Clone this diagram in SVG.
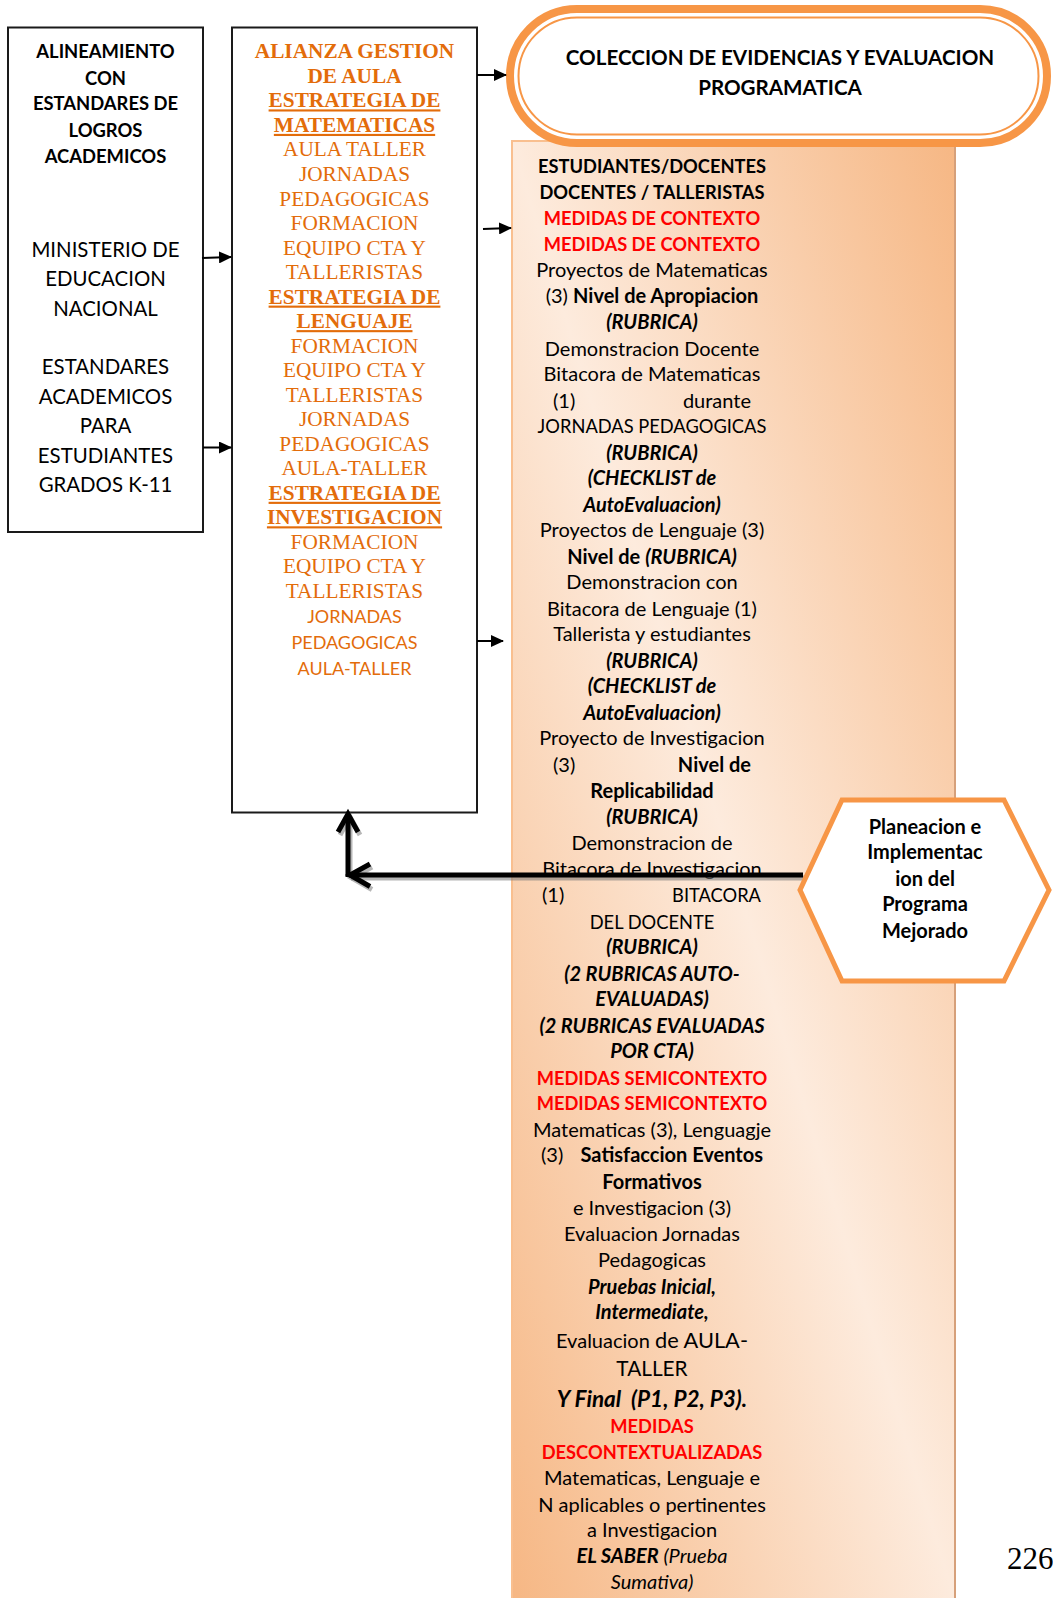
<svg xmlns="http://www.w3.org/2000/svg" width="1053" height="1598" viewBox="0 0 1053 1598">
<defs>
<style>
.s{font-family:Lato,"Open Sans",sans-serif;text-anchor:middle;fill:#000}
.t{font-family:"Liberation Serif","Times New Roman",serif;text-anchor:middle;fill:#E36C0A;font-size:21.3px}
.tb{font-weight:bold}
.u{text-decoration:underline}
.lb{font-size:18.4px;font-weight:bold}
.lr{font-size:20.4px}
.pill{font-size:20.6px;font-weight:bold}
.p{font-size:20px}
.cap{font-size:18.3px}
.ms{font-size:18px;fill:#E36C0A}
.b{font-weight:bold}
.i{font-style:italic}
.bi{font-weight:bold;font-style:italic}
.red{fill:#FF0000;font-weight:bold}
.big{font-size:22.5px}
.bigc{font-size:20.8px}
.box{fill:#fff;stroke:#1a1a1a;stroke-width:2}
.cn{stroke:#000;stroke-width:2;fill:none}
.thick{stroke:#000;stroke-width:5;fill:none;stroke-linecap:butt}
.shadow{stroke:#7a7a7a;stroke-width:5;fill:none;opacity:0.55}
</style>
<linearGradient id="pg" x1="0" y1="1" x2="1" y2="0">
<stop offset="0" stop-color="#F6B784"/>
<stop offset="0.5" stop-color="#FDEBDD"/>
<stop offset="1" stop-color="#F6B784"/>
</linearGradient>
<marker id="ah" markerWidth="13" markerHeight="12" refX="12" refY="6" orient="auto" markerUnits="userSpaceOnUse">
<path d="M0,0 L13,6 L0,12 z" fill="#000"/>
</marker>
</defs>
<rect width="1053" height="1598" fill="#fff"/>

<g id="panel">
<rect x="512" y="141" width="443" height="1460" fill="url(#pg)" stroke="#F9BF8F" stroke-width="2"/>
<line x1="955" y1="141" x2="955" y2="1598" stroke="#D6A07A" stroke-width="2"/>
<text class="s cap b" x="652" y="173.2">ESTUDIANTES/DOCENTES</text>
<text class="s cap b" x="652" y="198.6">DOCENTES / TALLERISTAS</text>
<text class="s cap red" x="652" y="225.2">MEDIDAS DE CONTEXTO</text>
<text class="s cap red" x="652" y="250.6">MEDIDAS DE CONTEXTO</text>
<text class="s p" x="652" y="277.1">Proyectos de Matematicas</text>
<text class="s p" x="652" y="302.6">(3) <tspan class="b">Nivel de Apropiacion</tspan></text>
<text class="s p bi" x="652" y="329.1">(RUBRICA)</text>
<text class="s p" x="652" y="355.6">Demonstracion Docente</text>
<text class="s p" x="652" y="381.1">Bitacora de Matematicas</text>
<text class="s p" x="553" y="407.6" style="text-anchor:start">(1)</text>
<text class="s p" x="751" y="407.6" style="text-anchor:end">durante</text>
<text class="s cap" x="652" y="433.1">JORNADAS PEDAGOGICAS</text>
<text class="s p bi" x="652" y="459.6">(RUBRICA)</text>
<text class="s p bi" x="652" y="485.1">(CHECKLIST de</text>
<text class="s p bi" x="652" y="511.6">AutoEvaluacion)</text>
<text class="s p" x="652" y="537.1">Proyectos de Lenguaje (3)</text>
<text class="s p b" x="652" y="563.6">Nivel de <tspan class="i">(RUBRICA)</tspan></text>
<text class="s p" x="652" y="589.1">Demonstracion con</text>
<text class="s p" x="652" y="615.6">Bitacora de Lenguaje (1)</text>
<text class="s p" x="652" y="641.1">Tallerista y estudiantes</text>
<text class="s p bi" x="652" y="667.6">(RUBRICA)</text>
<text class="s p bi" x="652" y="693.1">(CHECKLIST de</text>
<text class="s p bi" x="652" y="719.6">AutoEvaluacion)</text>
<text class="s p" x="652" y="745">Proyecto de Investigacion</text>
<text class="s p" x="553" y="771.6" style="text-anchor:start">(3)</text>
<text class="s p b" x="751" y="771.6" style="text-anchor:end">Nivel de</text>
<text class="s p b" x="652" y="798.1">Replicabilidad</text>
<text class="s p bi" x="652" y="823.5">(RUBRICA)</text>
<text class="s p" x="652" y="850">Demonstracion de</text>
<text class="s p" x="652" y="875.5">Bitacora de Investigacion</text>
<text class="s p" x="542" y="902" style="text-anchor:start">(1)</text>
<text class="s cap" x="761" y="902" style="text-anchor:end">BITACORA</text>
<text class="s cap" x="652" y="928.5">DEL DOCENTE</text>
<text class="s p bi" x="652" y="954">(RUBRICA)</text>
<text class="s p bi" x="652" y="980.5">(2 RUBRICAS AUTO-</text>
<text class="s p bi" x="652" y="1006">EVALUADAS)</text>
<text class="s p bi" x="652" y="1032.5">(2 RUBRICAS EVALUADAS</text>
<text class="s p bi" x="652" y="1058">POR CTA)</text>
<text class="s cap red" x="652" y="1084.5">MEDIDAS SEMICONTEXTO</text>
<text class="s cap red" x="652" y="1110">MEDIDAS SEMICONTEXTO</text>
<text class="s p" x="652" y="1136.5">Matematicas (3), Lenguagje</text>
<text class="s p" x="541" y="1162" style="text-anchor:start">(3)</text>
<text class="s p b" x="763" y="1162" style="text-anchor:end">Satisfaccion Eventos</text>
<text class="s p b" x="652" y="1188.5">Formativos</text>
<text class="s p" x="652" y="1215">e Investigacion (3)</text>
<text class="s p" x="652" y="1240.5">Evaluacion Jornadas</text>
<text class="s p" x="652" y="1267">Pedagogicas</text>
<text class="s p bi" x="652" y="1293.5">Pruebas Inicial,</text>
<text class="s p bi" x="652" y="1319">Intermediate,</text>
<text class="s p" x="652" y="1348">Evaluacion <tspan style="font-size:21.8px">de AULA-</tspan></text>
<text class="s bigc" x="652" y="1376">TALLER</text>
<text class="s big bi" x="652" y="1406.6" xml:space="preserve">Y Final  (P1, P2, P3).</text>
<text class="s cap red" x="652" y="1433.1">MEDIDAS</text>
<text class="s cap red" x="652" y="1458.6">DESCONTEXTUALIZADAS</text>
<text class="s p" x="652" y="1485.1">Matematicas, Lenguaje e</text>
<text class="s p" x="652" y="1511.6">N aplicables o pertinentes</text>
<text class="s p" x="652" y="1537.1">a Investigacion</text>
<text class="s p i" x="652" y="1562.6"><tspan class="b">EL SABER</tspan> (Prueba</text>
<text class="s p i" x="652" y="1589.1">Sumativa)</text>
</g>

<g id="alineamiento">
<rect class="box" x="8" y="27.5" width="195" height="504.5"/>
<text class="s lb" x="105.5" y="58">ALINEAMIENTO</text>
<text class="s lb" x="105.5" y="84.5">CON</text>
<text class="s lb" x="105.5" y="110">ESTANDARES DE</text>
<text class="s lb" x="105.5" y="136.5">LOGROS</text>
<text class="s lb" x="105.5" y="163">ACADEMICOS</text>
<text class="s lr" x="105.5" y="256.5">MINISTERIO DE</text>
<text class="s lr" x="105.5" y="286">EDUCACION</text>
<text class="s lr" x="105.5" y="315.5">NACIONAL</text>
<text class="s lr" x="105.5" y="374">ESTANDARES</text>
<text class="s lr" x="105.5" y="403.5">ACADEMICOS</text>
<text class="s lr" x="105.5" y="433">PARA</text>
<text class="s lr" x="105.5" y="462.5">ESTUDIANTES</text>
<text class="s lr" x="105.5" y="492">GRADOS K-11</text>
</g>

<g id="alianza">
<rect class="box" x="232" y="27.5" width="245" height="785"/>
<text class="t tb" x="354.5" y="58.3">ALIANZA GESTION</text>
<text class="t tb" x="354.5" y="82.8">DE AULA</text>
<text class="t tb u" x="354.5" y="107.4">ESTRATEGIA DE</text>
<text class="t tb u" x="354.5" y="131.9">MATEMATICAS</text>
<text class="t" x="354.5" y="156.4">AULA TALLER</text>
<text class="t" x="354.5" y="180.9">JORNADAS</text>
<text class="t" x="354.5" y="205.5">PEDAGOGICAS</text>
<text class="t" x="354.5" y="230">FORMACION</text>
<text class="t" x="354.5" y="254.5">EQUIPO CTA Y</text>
<text class="t" x="354.5" y="279">TALLERISTAS</text>
<text class="t tb u" x="354.5" y="303.6">ESTRATEGIA DE</text>
<text class="t tb u" x="354.5" y="328.1">LENGUAJE</text>
<text class="t" x="354.5" y="352.6">FORMACION</text>
<text class="t" x="354.5" y="377.1">EQUIPO CTA Y</text>
<text class="t" x="354.5" y="401.7">TALLERISTAS</text>
<text class="t" x="354.5" y="426.2">JORNADAS</text>
<text class="t" x="354.5" y="450.7">PEDAGOGICAS</text>
<text class="t" x="354.5" y="475.2">AULA-TALLER</text>
<text class="t tb u" x="354.5" y="499.8">ESTRATEGIA DE</text>
<text class="t tb u" x="354.5" y="524.3">INVESTIGACION</text>
<text class="t" x="354.5" y="548.8">FORMACION</text>
<text class="t" x="354.5" y="573.3">EQUIPO CTA Y</text>
<text class="t" x="354.5" y="597.9">TALLERISTAS</text>
<text class="s ms" x="354.5" y="623.3">JORNADAS</text>
<text class="s ms" x="354.5" y="649.1">PEDAGOGICAS</text>
<text class="s ms" x="354.5" y="675.1">AULA-TALLER</text>
</g>

<g id="coleccion">
<rect x="510" y="9" width="537" height="134" rx="67" ry="67" fill="#fff" stroke="#F79646" stroke-width="8"/>
<rect x="518.5" y="17.5" width="520" height="117" rx="58.5" ry="58.5" fill="none" stroke="#F79646" stroke-width="2"/>
<text class="s pill" x="780" y="65">COLECCION DE EVIDENCIAS Y EVALUACION</text>
<text class="s pill" x="780" y="95">PROGRAMATICA</text>
</g>

<g id="connectors">
<line class="cn" x1="202" y1="258" x2="231" y2="257" marker-end="url(#ah)"/>
<line class="cn" x1="203" y1="447.5" x2="231" y2="447.5" marker-end="url(#ah)"/>
<line class="cn" x1="477" y1="75" x2="506" y2="75" marker-end="url(#ah)"/>
<line class="cn" x1="483" y1="229" x2="511" y2="228" marker-end="url(#ah)"/>
<line class="cn" x1="477" y1="641" x2="503" y2="641" marker-end="url(#ah)"/>
<g transform="translate(2,3)">
<path class="shadow" d="M803,875 L349,875 M348,875 L348,814"/>
<path class="shadow" d="M370,864 L350,875 L370,886.5"/>
<path class="shadow" d="M338,832 L348,814 L358,832"/>
</g>
<path class="thick" d="M803,875 L349,875 M348,877 L348,814"/>
<path class="thick" d="M370,864 L350,875 L370,886.5"/>
<path class="thick" d="M338,832 L348,814 L358,832"/>
</g>

<g id="planeacion">
<polygon points="800,890 842,800 1004,800 1049,890 1004,981 842,981" fill="#fff" stroke="#F79646" stroke-width="5"/>
<text class="s p b" x="925" y="834">Planeacion e</text>
<text class="s p b" x="925" y="859">Implementac</text>
<text class="s p b" x="925" y="886">ion del</text>
<text class="s p b" x="925" y="911">Programa</text>
<text class="s p b" x="925" y="938">Mejorado</text>
</g>

<text x="1007" y="1569" style="font-family:'Liberation Serif',serif;font-size:31px;fill:#000">226</text>
</svg>
